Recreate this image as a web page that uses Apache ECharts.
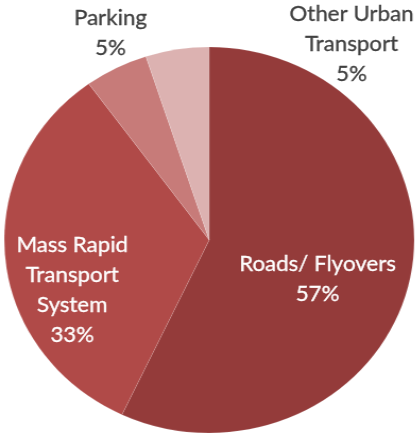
<!DOCTYPE html>
<html>
<head>
<meta charset="utf-8">
<script src="https://cdn.jsdelivr.net/npm/echarts@6/dist/echarts.min.js"></script>
<style>
  html, body { margin: 0; padding: 0; background: #fff; overflow: hidden; }
  /* the reference pie is slightly wider than tall, so stretch it a little */
  #pie-chart { width: 391px; height: 436px; transform: scaleX(1.062); transform-origin: 0 0; }
</style>
</head>
<body>
<div id="pie-chart"></div>
<script>
var categories = ['Roads/ Flyovers', 'Mass Rapid\nTransport\nSystem', 'Parking', 'Other Urban\nTransport'];
var shares = [57, 33, 5, 5];
var sliceColors = ['#943B3A', '#B04A48', '#C77B79', '#DCB2B1'];
var labelColors = ['#FFFFFF', '#FFFFFF', '#404040', '#404040'];

// label centres, in chart coordinates
var labelSpots = [[299, 279], [68, 290], [104, 33], [331, 44]];

var pieChart = echarts.init(document.getElementById('pie-chart'));

var option = {
    animation: false,
    series: [
        {
            type: 'pie',
            center: [197, 240],
            radius: 193,
            startAngle: 90,
            clockwise: true,
            itemStyle: {
                borderColor: 'rgba(255,255,255,0.25)',
                borderWidth: 0.5
            },
            label: {
                show: true,
                position: 'inside',
                formatter: '{b}\n{c}%',
                fontFamily: 'Lato',
                fontSize: 21,
                fontWeight: 'normal',
                lineHeight: 30,
                align: 'center',
                textBorderWidth: 0.3
            },
            labelLine: { show: false },
            labelLayout: function (params) {
                var p = labelSpots[params.dataIndex];
                return { x: p[0], y: p[1], align: 'center', verticalAlign: 'middle' };
            },
            data: categories.map(function (name, i) {
                return {
                    name: name,
                    value: shares[i],
                    itemStyle: { color: sliceColors[i] },
                    label: { color: labelColors[i], textBorderColor: labelColors[i] }
                };
            })
        }
    ]
};

pieChart.setOption(option);
</script>
</body>
</html>
